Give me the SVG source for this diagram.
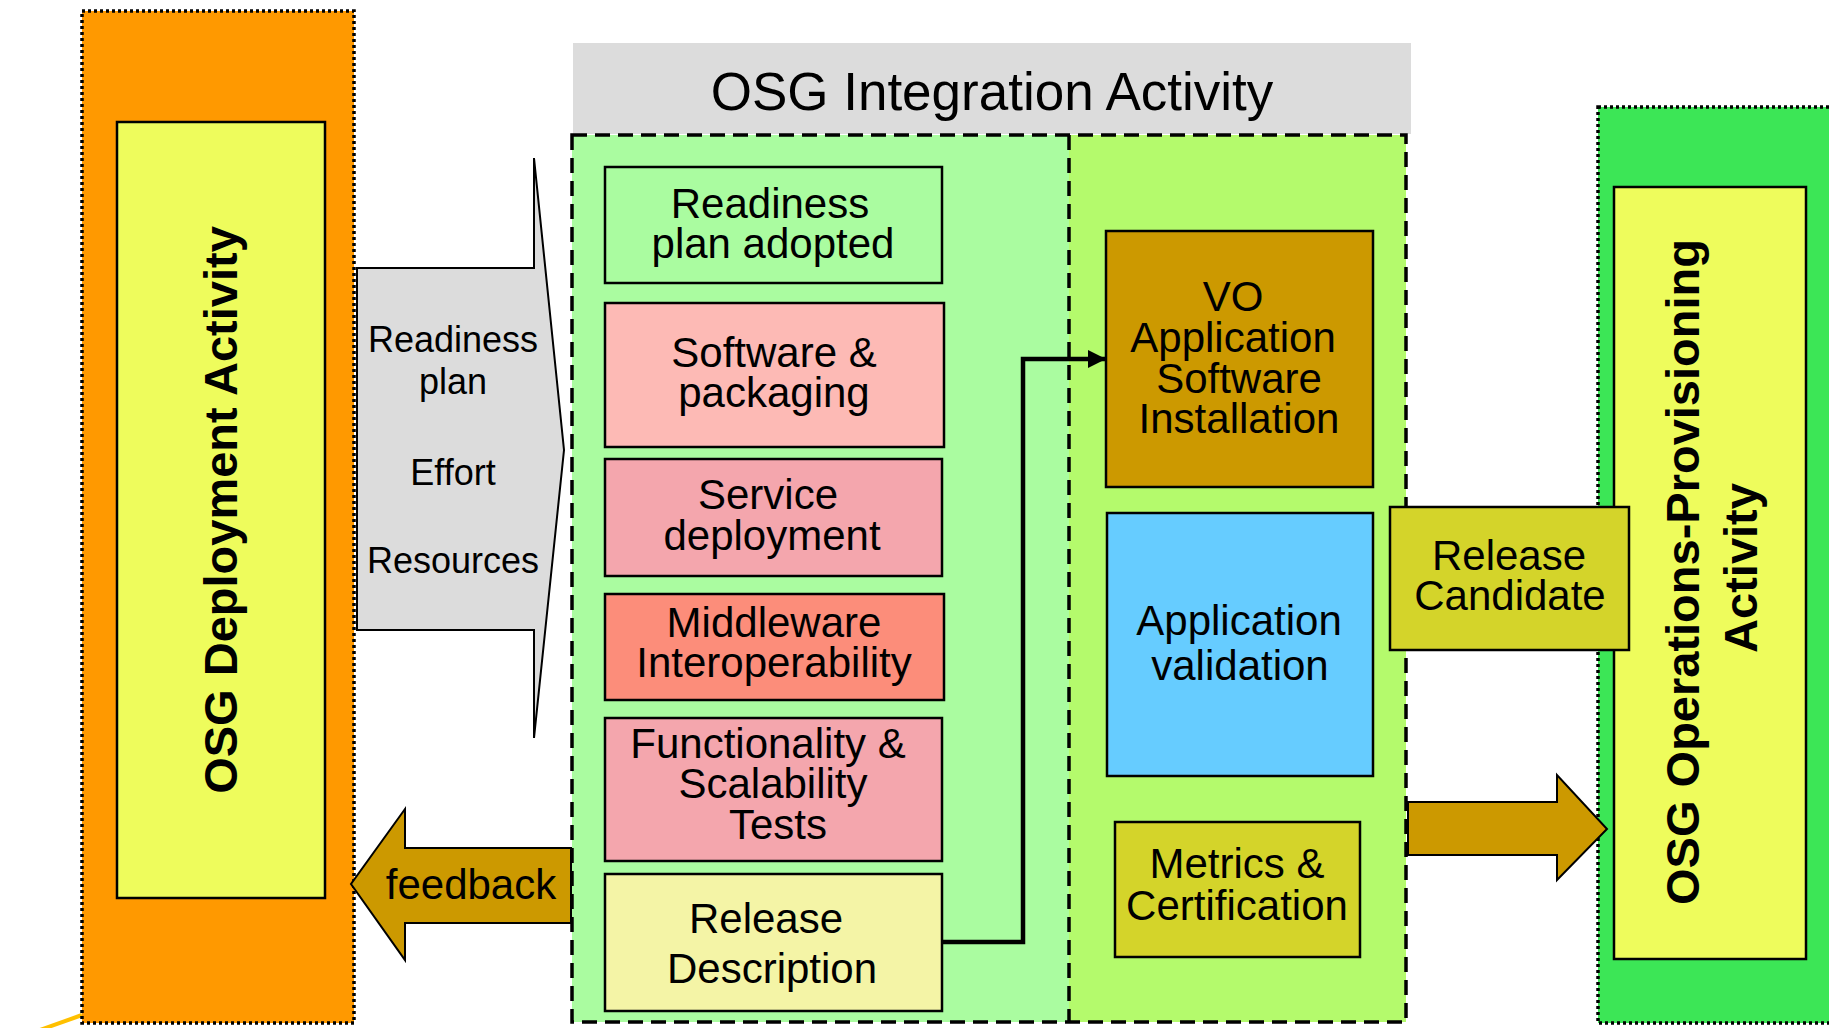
<svg xmlns="http://www.w3.org/2000/svg" width="1829" height="1028" viewBox="0 0 1829 1028">
<defs>
<style>
text{font-family:"Liberation Sans",Arial,sans-serif;fill:#000;text-anchor:middle}
.box{stroke:#000;stroke-width:2.5}
.bt{font-size:42px}
.vt{font-size:47px;font-weight:bold}
.dotted{stroke:#000;stroke-width:3.5;stroke-dasharray:3 3}
.dashed{fill:none;stroke:#000;stroke-width:3.5;stroke-dasharray:15 8}
.thin{stroke:#000;stroke-width:2}
</style>
<marker id="ah" viewBox="0 0 10 10" refX="10" refY="5" markerWidth="18" markerHeight="18" markerUnits="userSpaceOnUse" orient="auto">
<path d="M0,0 L10,5 L0,10 Z" fill="#000"/>
</marker>
</defs>
<rect x="0" y="0" width="1829" height="1028" fill="#fff"/>
<line x1="40" y1="1030" x2="82" y2="1015" stroke="#ffc000" stroke-width="4"/>

<g id="deployment">
<rect x="82" y="11" width="272" height="1012" fill="#ff9900" class="dotted"/>
<rect x="117" y="122" width="208" height="776" fill="#eefc5c" class="box"/>
<text class="vt" transform="translate(237,510) rotate(-90)">OSG Deployment Activity</text>
</g>

<g id="inputs">
<path d="M357,268 L534,268 L534,158 L564,450 L534,738 L534,630 L357,630 Z" fill="#dcdcdc" class="thin"/>
<text x="453" y="352" font-size="36">Readiness</text>
<text x="453" y="394" font-size="36">plan</text>
<text x="453" y="485" font-size="36">Effort</text>
<text x="453" y="573" font-size="36">Resources</text>
</g>

<g id="integration">
<rect x="573" y="43" width="838" height="91" fill="#dcdcdc"/>
<text x="992" y="110" font-size="53">OSG Integration Activity</text>
<rect x="572" y="135" width="497" height="887" fill="#aafca0"/>
<rect x="1069" y="135" width="337" height="887" fill="#b4fa6c"/>
<rect x="572" y="135" width="834" height="887" class="dashed"/>
<line x1="1069" y1="135" x2="1069" y2="1022" class="dashed" stroke-width="3"/>
</g>

<g id="readiness-plan">
<rect x="605" y="167" width="337" height="116" fill="#aafca0" class="box"/>
<text class="bt" x="770" y="218">Readiness</text>
<text class="bt" x="773" y="258">plan adopted</text>
</g>
<g id="software-packaging">
<rect x="605" y="303" width="339" height="144" fill="#fdbab5" class="box"/>
<text class="bt" x="774" y="367">Software &amp;</text>
<text class="bt" x="774" y="407">packaging</text>
</g>
<g id="service-deployment">
<rect x="605" y="459" width="337" height="117" fill="#f4a6ad" class="box"/>
<text class="bt" x="768" y="509">Service</text>
<text class="bt" x="772" y="550">deployment</text>
</g>
<g id="middleware">
<rect x="605" y="594" width="339" height="106" fill="#fc8d7a" class="box"/>
<text class="bt" x="774" y="637">Middleware</text>
<text class="bt" x="774" y="677">Interoperability</text>
</g>
<g id="functionality">
<rect x="605" y="718" width="337" height="143" fill="#f4a6ad" class="box"/>
<text class="bt" x="768" y="758">Functionality &amp;</text>
<text class="bt" x="773" y="798">Scalability</text>
<text class="bt" x="778" y="839">Tests</text>
</g>
<g id="release-description">
<rect x="605" y="874" width="337" height="137" fill="#f4f4a6" class="box"/>
<text class="bt" x="766" y="933">Release</text>
<text class="bt" x="772" y="983">Description</text>
</g>

<g id="vo-install">
<rect x="1106" y="231" width="267" height="256" fill="#cc9900" class="box"/>
<text class="bt" x="1233" y="311">VO</text>
<text class="bt" x="1233" y="352">Application</text>
<text class="bt" x="1239" y="393">Software</text>
<text class="bt" x="1239" y="433">Installation</text>
</g>
<g id="app-validation">
<rect x="1107" y="513" width="266" height="263" fill="#66ccff" class="box"/>
<text class="bt" x="1239" y="635">Application</text>
<text class="bt" x="1240" y="680">validation</text>
</g>
<g id="metrics">
<rect x="1115" y="822" width="245" height="135" fill="#d4d42a" class="box"/>
<text class="bt" x="1237" y="878">Metrics &amp;</text>
<text class="bt" x="1237" y="920">Certification</text>
</g>

<g id="operations">
<rect x="1598" y="107" width="240" height="916" fill="#3ce656" class="dotted"/>
<rect x="1614" y="187" width="192" height="772" fill="#eefc5c" class="box"/>
<text class="vt" transform="translate(1699,572) rotate(-90)">OSG Operations-Provisioning</text>
<text class="vt" transform="translate(1757,568) rotate(-90)">Activity</text>
</g>

<g id="release-candidate">
<rect x="1390" y="507" width="239" height="143" fill="#d4d42a" class="box"/>
<text class="bt" x="1509" y="570">Release</text>
<text class="bt" x="1510" y="610">Candidate</text>
</g>

<g id="feedback">
<path d="M571,848 L405,848 L405,809 L351,884 L405,960 L405,923 L571,923 Z" fill="#cc9900" class="thin"/>
<text class="bt" x="471" y="899">feedback</text>
</g>

<g id="connectors">
<path d="M942,942 H1023 V359 H1106" fill="none" stroke="#000" stroke-width="4.5" marker-end="url(#ah)"/>
<path d="M1408,802 L1557,802 L1557,775 L1607,829 L1557,880 L1557,855 L1408,855 Z" fill="#cc9900" class="thin"/>
</g>
</svg>
